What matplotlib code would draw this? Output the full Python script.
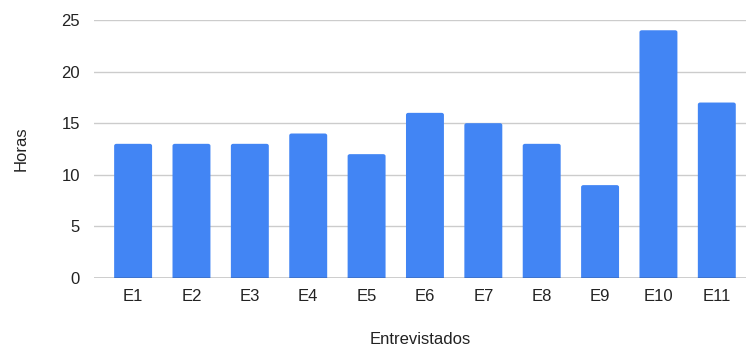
import matplotlib.pyplot as plt
from matplotlib.patches import FancyBboxPatch

entrevistados = ['E1', 'E2', 'E3', 'E4', 'E5', 'E6', 'E7', 'E8', 'E9', 'E10', 'E11']
horas = [13, 13, 13, 14, 12, 16, 15, 13, 9, 24, 17]

plt.rcParams['font.family'] = ['Liberation Sans', 'DejaVu Sans']

fig = plt.figure(figsize=(7.46, 3.56), dpi=100)
ax = fig.add_axes([0.126, 0.219, 0.874, 0.725])

bars = ax.bar(entrevistados, horas, width=0.65, color='#4285F4', zorder=3)

# barras com cantos superiores levemente arredondados
for b in bars:
    x, w, h = b.get_x(), b.get_width(), b.get_height()
    b.set_visible(False)
    p = FancyBboxPatch((x, -1), w, h + 1,
                       boxstyle='round,pad=0,rounding_size=0.04',
                       mutation_aspect=4.8, facecolor='#4285F4',
                       edgecolor='none', zorder=3)
    ax.add_patch(p)

ax.set_ylim(0, 25)
ax.set_xlim(-0.67, len(entrevistados) - 0.5)
ax.set_yticks(range(0, 26, 5))
ax.grid(axis='y', color='#cccccc', linewidth=1, zorder=0)
ax.axhline(0, color='#333333', linewidth=1, zorder=4)

for s in ax.spines.values():
    s.set_visible(False)
ax.tick_params(axis='both', length=0, labelsize=12, colors='#222222')
ax.tick_params(axis='y', pad=10)
ax.tick_params(axis='x', pad=8)

ax.set_xlabel('Entrevistados', fontsize=12, color='#222222', labelpad=20)
ax.set_ylabel('Horas', fontsize=12, color='#222222', labelpad=24)

plt.savefig('out.png', dpi=100)
